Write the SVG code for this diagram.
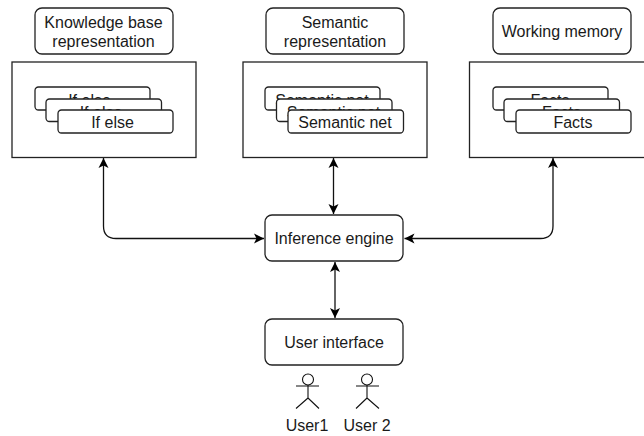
<svg xmlns="http://www.w3.org/2000/svg" width="644" height="436" viewBox="0 0 644 436">
<style>
.b{fill:#fff;stroke:#222;stroke-width:1.3}
.t{font-family:"Liberation Sans",Arial,sans-serif;font-size:16px;fill:#1a1a1a;text-anchor:middle}
.c{fill:none;stroke:#111;stroke-width:1.3}
.a{fill:none;stroke:#111;stroke-width:1.1}
</style>
<defs>
<marker id="m" viewBox="0 0 12 12" refX="11" refY="6" markerWidth="12" markerHeight="12" markerUnits="userSpaceOnUse" orient="auto-start-reverse"><path d="M1 1L11 6L1 11L3.500 6Z" fill="#000"/></marker>
</defs>
<rect width="644" height="436" fill="#fff"/>
<g id="connectors">
<path class="c" d="M103.500 158V226Q103.500 238.500 116 238.500H264" marker-start="url(#m)" marker-end="url(#m)"/>
<path class="c" d="M333.500 158V214" marker-start="url(#m)" marker-end="url(#m)"/>
<path class="c" d="M553 158V226Q553 238.500 540.500 238.500H404.500" marker-start="url(#m)" marker-end="url(#m)"/>
<path class="c" d="M335 262V318" marker-start="url(#m)" marker-end="url(#m)"/>
</g>
<g id="kb-title"><rect class="b" x="35" y="8" width="138" height="46" rx="7"/><text class="t" x="103.500" y="28">Knowledge base</text><text class="t" x="103.500" y="47">representation</text></g>
<g id="kb-box"><rect class="b" x="12" y="62" width="184" height="95.500"/>
<rect class="b" x="35" y="87" width="115" height="23" rx="3.500"/><text class="t" x="89.500" y="106">If else</text>
<rect class="b" x="46" y="99" width="115.500" height="22.500" rx="3.500"/><text class="t" x="101" y="118">If else</text>
<rect class="b" x="58" y="110" width="115" height="23" rx="3.500"/><text class="t" x="112.500" y="127.500">If else</text></g>
<g id="sem-title"><rect class="b" x="266" y="8" width="138" height="46" rx="7"/><text class="t" x="335" y="28">Semantic</text><text class="t" x="335" y="47">representation</text></g>
<g id="sem-box"><rect class="b" x="243" y="62" width="184" height="95.500"/>
<rect class="b" x="265" y="87" width="115" height="23" rx="3.500"/><text class="t" x="322" y="106">Semantic net</text>
<rect class="b" x="276.500" y="99" width="115.500" height="22.500" rx="3.500"/><text class="t" x="333.500" y="118">Semantic net</text>
<rect class="b" x="288" y="110" width="115.500" height="23" rx="3.500"/><text class="t" x="345" y="127.500">Semantic net</text></g>
<g id="wm-title"><rect class="b" x="493" y="8" width="138" height="46" rx="7"/><text class="t" x="562" y="37">Working memory</text></g>
<g id="wm-box"><rect class="b" x="469.500" y="62" width="184" height="95.500"/>
<rect class="b" x="493" y="87" width="115" height="23" rx="3.500"/><text class="t" x="550" y="106">Facts</text>
<rect class="b" x="504" y="99" width="115.500" height="22.500" rx="3.500"/><text class="t" x="561.500" y="118">Facts</text>
<rect class="b" x="516" y="110" width="115" height="23" rx="3.500"/><text class="t" x="573" y="127.500">Facts</text></g>
<g id="inference"><rect class="b" x="265" y="215" width="138" height="46" rx="7"/><text class="t" x="334" y="244">Inference engine</text></g>
<g id="ui"><rect class="b" x="265" y="319" width="138" height="46" rx="7"/><text class="t" x="334" y="348">User interface</text></g>
<g id="user1"><circle class="a" cx="308" cy="379.500" r="5.500"/><path class="a" d="M308 385V398M296 386H319M308 398L296 408.500M308 398L319 408.500"/><text class="t" x="307" y="430.500">User1</text></g>
<g id="user2"><circle class="a" cx="367" cy="379.500" r="5.500"/><path class="a" d="M367 385V398M356 386H379M367 398L356 408.500M367 398L379 408.500"/><text class="t" x="367" y="430.500">User 2</text></g>
</svg>
